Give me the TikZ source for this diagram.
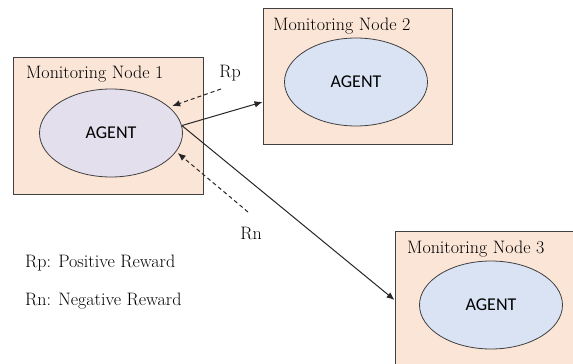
\documentclass[tikz,border=0pt]{standalone}
\usepackage{fontspec}
\newfontfamily\agentfont{Carlito}
\usetikzlibrary{arrows.meta,shapes.geometric}
\definecolor{peach}{HTML}{FBE5D6}
\definecolor{lav}{HTML}{E4DFEC}
\definecolor{lblue}{HTML}{DAE3F3}
\definecolor{edge}{HTML}{404040}
\tikzset{
  box/.style={draw=edge,line width=0.9pt,fill=peach,rectangle,inner sep=0pt},
  agent/.style={draw=edge,line width=0.8pt,ellipse,minimum width=143pt,minimum height=88pt,inner sep=0pt,font=\agentfont\fontsize{18}{21}\selectfont},
  title/.style={anchor=west,inner sep=0pt,font=\fontsize{18}{21}\selectfont},
  lbl/.style={inner sep=0pt,font=\fontsize{18}{21}\selectfont},
  link/.style={line width=1pt,black!85,-{Latex[length=8pt,width=6.5pt]}},
  reward/.style={line width=1pt,black!85,dashed,dash pattern=on 4pt off 3pt,-{Latex[length=8pt,width=6.5pt]}}
}
\begin{document}
\begin{tikzpicture}[x=1pt,y=-1pt]
\useasboundingbox (0,0) rectangle (573,364);
\clip (0,0) rectangle (573,364);
\node[box,minimum width=190pt,minimum height=137pt] (b1) at (108,125.5) {};
\node[box,minimum width=189pt,minimum height=136pt] (b2) at (357.5,76) {};
\node[box,minimum width=205pt,minimum height=169pt] (b3) at (497.5,315.5) {};
\node[title] (t1) at (26,74) {Monitoring Node 1};
\node[title] (t2) at (273,26) {Monitoring Node 2};
\node[title] (t3) at (407,249) {Monitoring Node 3};
\node[agent,fill=lav] (e1) at (111,133) {AGENT};
\node[agent,fill=lblue] (e2) at (356,82) {AGENT};
\node[agent,fill=lblue] (e3) at (491,305) {AGENT};
\draw[link] (e1.6) -- ([yshift=-26pt]b2.west);
\draw[link] (e1.6) -- ([yshift=15.5pt]b3.west);
\coordinate (rps) at (221,89);
\coordinate (rns) at (248,212);
\draw[reward,shorten >=3pt] (rps) -- (e1.24);
\draw[reward,shorten >=2pt] (rns) -- (e1.-16);
\node[lbl] (rp) at (230,73) {Rp};
\node[lbl] (rn) at (251,233) {Rn};
\node[title] (l1) at (25,263) {Rp: Positive Reward};
\node[title] (l2) at (25,301) {Rn: Negative Reward};
\end{tikzpicture}
\end{document}
